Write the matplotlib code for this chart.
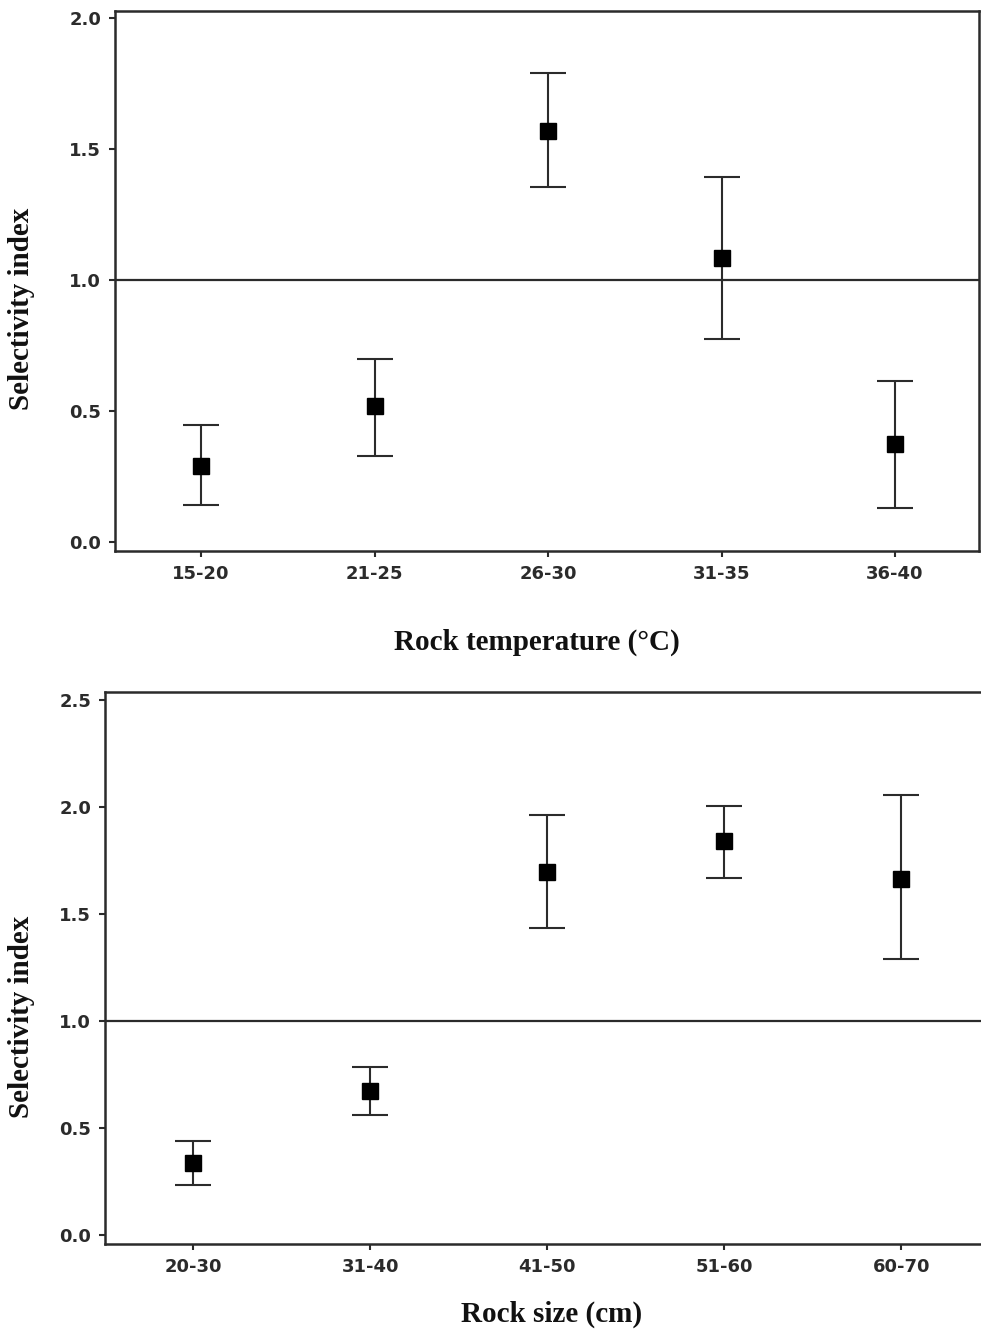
import numpy as np
import matplotlib
matplotlib.use('Agg')
import matplotlib.pyplot as plt

# --- data: selectivity index (mean with lower / upper interval) ---
temp_cats = ['15-20', '21-25', '26-30', '31-35', '36-40']
temp_mean = [0.29, 0.52, 1.57, 1.085, 0.375]
temp_low = [0.14, 0.33, 1.355, 0.775, 0.13]
temp_high = [0.445, 0.70, 1.79, 1.395, 0.615]

size_cats = ['20-30', '31-40', '41-50', '51-60', '60-70']
size_mean = [0.335, 0.675, 1.695, 1.84, 1.665]
size_low = [0.235, 0.56, 1.435, 1.67, 1.29]
size_high = [0.44, 0.785, 1.96, 2.005, 2.055]

W, H = 981, 1331
fig = plt.figure(figsize=(W / 100, H / 100), dpi=100)

INK = '#2b2b2b'
SERIF = dict(family='Liberation Serif', fontweight='bold', fontsize=21,
             color='#111111')


def panel(rect, cats, mean, low, high, xlim, ylim, yticks, xlabel,
          xlab_pos, ylab_pos):
    ax = fig.add_axes(rect)
    x = np.arange(len(cats))
    mean = np.array(mean)
    yerr = [mean - np.array(low), np.array(high) - mean]
    ax.axhline(1.0, color=INK, lw=1.6, zorder=1)
    ax.errorbar(x, mean, yerr=yerr, fmt='s', color='black', ecolor=INK,
                markersize=12, elinewidth=1.5, capsize=13, capthick=1.5,
                zorder=3)
    ax.set_xlim(*xlim)
    ax.set_ylim(*ylim)
    ax.set_xticks(x)
    ax.set_xticklabels(cats)
    ax.set_yticks(yticks)
    ax.set_yticklabels([f'{t:.1f}' for t in yticks])
    for s in ax.spines.values():
        s.set_linewidth(1.8)
        s.set_color(INK)
    ax.tick_params(direction='out', length=4, width=1.5, color=INK,
                   labelcolor=INK, labelsize=13, pad=6)
    for lab in ax.get_xticklabels() + ax.get_yticklabels():
        lab.set_fontweight('bold')
    ax.set_ylabel('Selectivity index', **SERIF)
    ax.set_xlabel(xlabel, **SERIF)
    ax.xaxis.set_label_coords(xlab_pos[0] / W, 1 - xlab_pos[1] / H,
                              transform=fig.transFigure)
    ax.yaxis.set_label_coords(ylab_pos[0] / W, 1 - ylab_pos[1] / H,
                              transform=fig.transFigure)
    return ax


# Rock temperature panel
panel([115 / W, 1 - 551 / H, (979 - 115) / W, (551 - 11) / H],
      temp_cats, temp_mean, temp_low, temp_high,
      (-0.496, 4.484), (-0.034, 2.027), [0.0, 0.5, 1.0, 1.5, 2.0],
      'Rock temperature (\u00b0C)', (537, 629), (35, 309))

# Rock size panel (right edge runs off the figure)
panel([105 / W, 1 - 1244 / H, (990 - 105) / W, (1244 - 692) / H],
      size_cats, size_mean, size_low, size_high,
      (-0.497, 4.50), (-0.042, 2.537), [0.0, 0.5, 1.0, 1.5, 2.0, 2.5],
      'Rock size (cm)', (552, 1301), (35, 1017))

fig.savefig('out.png', dpi=100)
